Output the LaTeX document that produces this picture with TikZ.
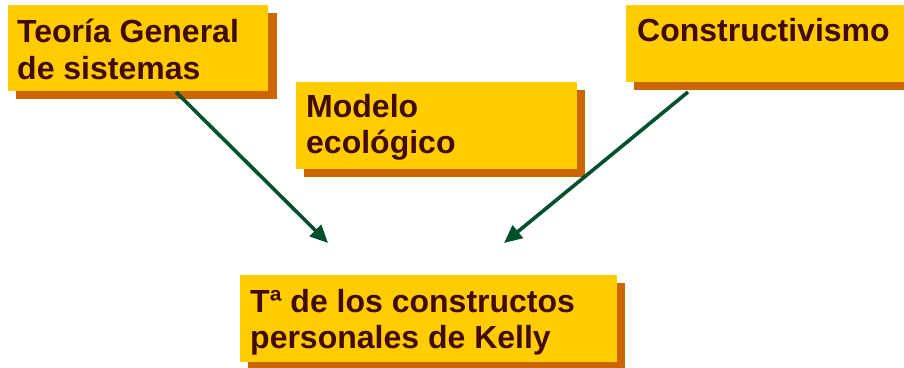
\documentclass[tikz,border=0pt]{standalone}
\usepackage{fontspec}
\setmainfont{Liberation Sans}
\usetikzlibrary{arrows.meta}
\definecolor{boxyellow}{HTML}{FFCC00}
\definecolor{boxshadow}{HTML}{CC6600}
\definecolor{txtbrown}{HTML}{420A0A}
\definecolor{arrowgreen}{HTML}{00502D}
\tikzset{
  ybox/.style={fill=boxyellow, draw=none},
  sbox/.style={fill=boxshadow, draw=none},
  lbl/.style={anchor=base west, inner sep=0pt, text=txtbrown, font=\bfseries\fontsize{32}{37}\selectfont},
  link/.style={draw=arrowgreen, line width=3.6pt, -{Triangle[length=18pt,width=16pt]}}
}
\begin{document}
\begin{tikzpicture}[x=1pt,y=-1pt]
\useasboundingbox (0,0) rectangle (904,367);
\begin{scope}
\clip (0,0) rectangle (904,367);
% Teoria General
\fill[sbox] (16,13) rectangle (277,99);
\fill[ybox] (8,5) rectangle (268,91);
% Modelo ecologico
\fill[sbox] (304,90) rectangle (585,177);
\fill[ybox] (296,82) rectangle (577,169);
% Constructivismo
\fill[sbox] (634,13) rectangle (920,90);
\fill[ybox] (626,5) rectangle (912,82);
% Kelly
\fill[sbox] (248,283) rectangle (625,372);
\fill[ybox] (240,275) rectangle (617,362);
\end{scope}
\node[lbl] (t1a) at (17,42) {Teoría General};
\node[lbl] (t1b) at (17,79) {de sistemas};
\node[lbl] (t2a) at (306,117) {Modelo};
\node[lbl] (t2b) at (306,153) {ecológico};
\node[lbl] (t3a) at (637,41) {Constructivismo};
\node[lbl] (t4a) at (250,312) {Tª de los constructos};
\node[lbl] (t4b) at (250,348) {personales de Kelly};
\coordinate (s1) at (176,92);
\coordinate (e1) at (328,243);
\coordinate (s2) at (688,92);
\coordinate (e2) at (504,243);
\draw[link] (s1) -- (e1);
\draw[link] (s2) -- (e2);
\end{tikzpicture}
\end{document}
